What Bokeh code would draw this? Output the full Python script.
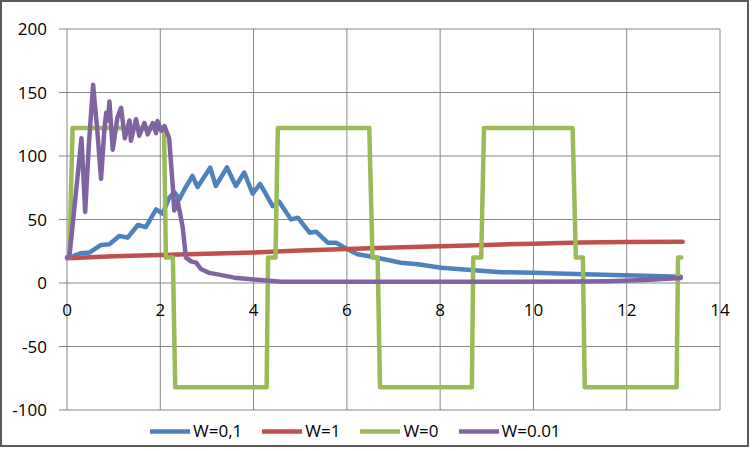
from bokeh.plotting import figure
from bokeh.models import Legend, LegendItem, ColumnDataSource, Range1d
from bokeh.core.properties import value
from bokeh.embed import file_html
from bokeh.resources import INLINE

# ---- data ----
blue_x = [0, 0.05, 0.30, 0.48, 0.73, 0.91, 1.12, 1.30, 1.52, 1.69, 1.91, 2.05, 2.19, 2.30, 2.41,
          2.52, 2.69, 2.80, 3.07, 3.19, 3.43, 3.62, 3.80, 3.98, 4.14, 4.41, 4.55, 4.80, 4.95,
          5.20, 5.34, 5.59, 5.77, 6.02, 6.23, 6.45, 6.80, 7.16, 7.52, 8.02, 8.73, 8.95, 9.31,
          10.02, 11.09, 12.16, 13.16]
blue_y = [20, 20, 23.5, 24, 30, 30.5, 37, 35.7, 45.7, 44, 58, 54.6, 67, 71.5, 66,
          73.8, 84.3, 75.6, 90.8, 76.4, 91, 76.4, 87, 70.3, 78, 60.6, 64, 50.1, 51.4,
          39.6, 40.4, 31.7, 31.7, 26.5, 22.6, 21.3, 18.7, 16, 14.7, 12, 10, 9.4, 8.5,
          8.1, 6.8, 6, 5]

red_x = [0, 1, 2, 3, 4, 5, 6, 7, 8, 9, 10, 11, 12, 13.2]
red_y = [19.5, 21, 22, 23, 24, 25.5, 26.8, 28, 29, 30, 31, 31.8, 32.3, 32.5]

green_x = [0, 0.05, 0.12, 2.08, 2.12, 2.27, 2.32, 4.28, 4.31, 4.47, 4.52, 6.48, 6.55, 6.66, 6.71,
           8.68, 8.71, 8.88, 8.94, 10.84, 10.91, 11.06, 11.10, 13.07, 13.10, 13.17]
green_y = [20, 20, 122, 122, 20, 20, -82, -82, 20, 20, 122, 122, 20, 20, -82,
           -82, 20, 20, 122, 122, 20, 20, -82, -82, 20, 20]

purple_x = [0, 0.05, 0.31, 0.39, 0.47, 0.56, 0.65, 0.73, 0.80, 0.84, 0.88, 0.91, 0.98, 1.08, 1.16,
            1.24, 1.34, 1.37, 1.48, 1.55, 1.66, 1.73, 1.84, 1.91, 1.94, 2.02, 2.09, 2.19, 2.27,
            2.30, 2.37, 2.48, 2.55, 2.66, 2.77, 2.87, 3.05, 3.23, 3.59, 3.95, 4.59, 8.0, 11.0,
            11.6, 12.5, 13.16]
purple_y = [20, 20, 114, 56, 110, 156, 120, 82, 120, 134, 128, 143, 105, 130, 138,
            114, 128, 112, 129, 116, 126, 117, 126, 118, 127.6, 120, 123.6, 114, 75,
            57, 65, 44, 20, 17, 16, 11, 8, 6.8, 4.2, 2.9, 1, 1, 1.1,
            1.4, 2.5, 4]

series_names = ["W=0,1", "W=1", "W=0", "W=0.01"]
series_colors = ["#4F81BD", "#C0504D", "#9BBB59", "#8064A2"]

x_ticks = [0, 2, 4, 6, 8, 10, 12, 14]
x_tick_labels = ["0", "2", "4", "6", "8", "10", "12", "14"]
y_ticks = [-100, -50, 0, 50, 100, 150, 200]
y_tick_labels = ["-100", "-50", "0", "50", "100", "150", "200"]

FONT = "Open Sans"
FS = "17px"
GRID = "#868686"

# ---- geometry: the frame fills the whole canvas; the chart's plot area sits inside it ----
W, H = 749, 447                      # canvas inside a 2px border
X0_PX, X1_PX = 64.5, 717.5           # pixel columns of x = 0 and x = 14
Y0_PX, Y1_PX = 26.5, 407.5           # pixel rows of y = 200 and y = -100
XMIN, XMAX = x_ticks[0], x_ticks[-1]
YMIN, YMAX = y_ticks[0], y_ticks[-1]
sx = (X1_PX - X0_PX) / (XMAX - XMIN)
sy = (Y1_PX - Y0_PX) / (YMAX - YMIN)
x_range = Range1d(XMIN - X0_PX / sx, XMAX + (W - X1_PX) / sx)
y_range = Range1d(YMIN - (H - Y1_PX) / sy, YMAX + Y0_PX / sy)
tick_len = 8 / sx

p = figure(width=W, height=H, output_backend="svg", toolbar_location=None,
           x_range=x_range, y_range=y_range,
           min_border_left=0, min_border_right=0, min_border_top=0, min_border_bottom=0)
p.styles = {"border": "2px solid #5a5a5a"}
p.axis.visible = False
p.grid.visible = False
p.background_fill_color = "white"
p.border_fill_color = "white"
p.outline_line_color = None

# grid lines (vertical at x ticks, horizontal at y ticks, y ticks extending left of the axis)
vsrc = ColumnDataSource(dict(x0=x_ticks, x1=x_ticks, y0=[YMIN] * len(x_ticks), y1=[YMAX] * len(x_ticks)))
hsrc = ColumnDataSource(dict(x0=[XMIN - tick_len] * len(y_ticks), x1=[XMAX] * len(y_ticks),
                             y0=y_ticks, y1=y_ticks))
p.segment(x0="x0", y0="y0", x1="x1", y1="y1", source=vsrc, line_color=GRID, line_width=1)
p.segment(x0="x0", y0="y0", x1="x1", y1="y1", source=hsrc, line_color=GRID, line_width=1)

# tick labels
ylab = ColumnDataSource(dict(x=[XMIN] * len(y_ticks), y=y_ticks, t=y_tick_labels))
p.text(x="x", y="y", text="t", source=ylab, text_align="right", text_baseline="middle",
       x_offset=-20, text_font=value(FONT), text_font_size=FS, text_color="black")
xlab = ColumnDataSource(dict(x=x_ticks, y=[0] * len(x_ticks), t=x_tick_labels))
p.text(x="x", y="y", text="t", source=xlab, text_align="center", text_baseline="middle",
       y_offset=27, text_font=value(FONT), text_font_size=FS, text_color="black")

renderers = []
for xs, ys, c in zip([blue_x, red_x, green_x, purple_x], [blue_y, red_y, green_y, purple_y],
                     series_colors):
    r = p.line(xs, ys, line_color=c, line_width=4.5, line_join="round", line_cap="round")
    renderers.append(r)

legend = Legend(items=[LegendItem(label=n, renderers=[r]) for n, r in zip(series_names, renderers)],
                orientation="horizontal", location=(148, 7),
                label_text_font=FONT, label_text_font_size=FS, label_text_color="black",
                glyph_width=40, glyph_height=18, label_standoff=3, spacing=20,
                padding=0, margin=0, border_line_color=None, background_fill_alpha=0)
p.add_layout(legend, "center")

open("out.html", "w").write(file_html(p, INLINE))
